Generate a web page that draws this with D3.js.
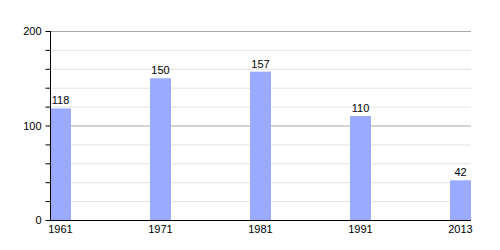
<!DOCTYPE html>
<html><head><meta charset="utf-8">
<script src="https://cdn.jsdelivr.net/npm/d3@7"></script>
<style>body{margin:0;background:#fff}</style>
</head><body>
<script>
const categories = ["1961","1971","1981","1991","2013"];
const values = [118,150,157,110,42];
const majorTicks = [0,100,200];
const minorTicks = [20,40,60,80,120,140,160,180];

const W=500,H=250;
const svg=d3.select("body").append("svg").attr("width",W).attr("height",H)
  .style("font-family","'Liberation Sans', Arial, sans-serif");
const x0=50,x1=471,yTop=31,yBot=220,barW=21;
const x=d3.scalePoint().domain(categories).range([x0,x1-barW]);
const y=d3.scaleLinear().domain([0,200]).range([yBot,yTop]);

svg.append("g").selectAll("line").data(minorTicks).join("line")
  .attr("x1",x0).attr("x2",x1).attr("y1",d=>y(d)+0.5).attr("y2",d=>y(d)+0.5)
  .attr("stroke","#e2e2e2");
svg.append("g").selectAll("line").data(majorTicks.filter(d=>d>0)).join("line")
  .attr("x1",x0).attr("x2",x1).attr("y1",d=>y(d)+0.5).attr("y2",d=>y(d)+0.5)
  .attr("stroke","#a8a8a8");

svg.append("g").selectAll("rect").data(values).join("rect")
  .attr("x",(d,i)=>x(categories[i])).attr("width",barW)
  .attr("y",d=>y(d)).attr("height",d=>yBot-y(d))
  .attr("fill","#99aaff");

svg.append("g").selectAll("text").data(values).join("text")
  .attr("x",(d,i)=>x(categories[i])+barW/2).attr("y",d=>y(d)-4)
  .attr("text-anchor","middle").attr("font-size",11).attr("fill","#000").text(d=>d);

// y axis
const ya=d3.axisLeft(y).tickValues(majorTicks).tickSize(5).tickFormat(d3.format("d"));
const g=svg.append("g").attr("transform",`translate(${x0+0.5},0)`).call(ya);
g.select(".domain").attr("d",`M0,${yTop}V${yBot}`).attr("stroke","#000");
g.selectAll("text").attr("font-size",11).attr("fill","#000").attr("font-family","'Liberation Sans', Arial, sans-serif").attr("x",-9);
g.selectAll("line").attr("stroke","#000");
g.append("g").selectAll("line").data(minorTicks).join("line")
  .attr("x1",-5).attr("x2",0).attr("y1",d=>y(d)+0.5).attr("y2",d=>y(d)+0.5).attr("stroke","#000");

// x axis
svg.append("line").attr("x1",x0).attr("x2",x1).attr("y1",yBot+0.5).attr("y2",yBot+0.5).attr("stroke","#000");
svg.append("g").selectAll("text").data(categories).join("text")
  .attr("x",d=>x(d)+barW/2).attr("y",yBot+13)
  .attr("text-anchor","middle").attr("font-size",11).attr("fill","#000").text(d=>d);
</script>
</body></html>
